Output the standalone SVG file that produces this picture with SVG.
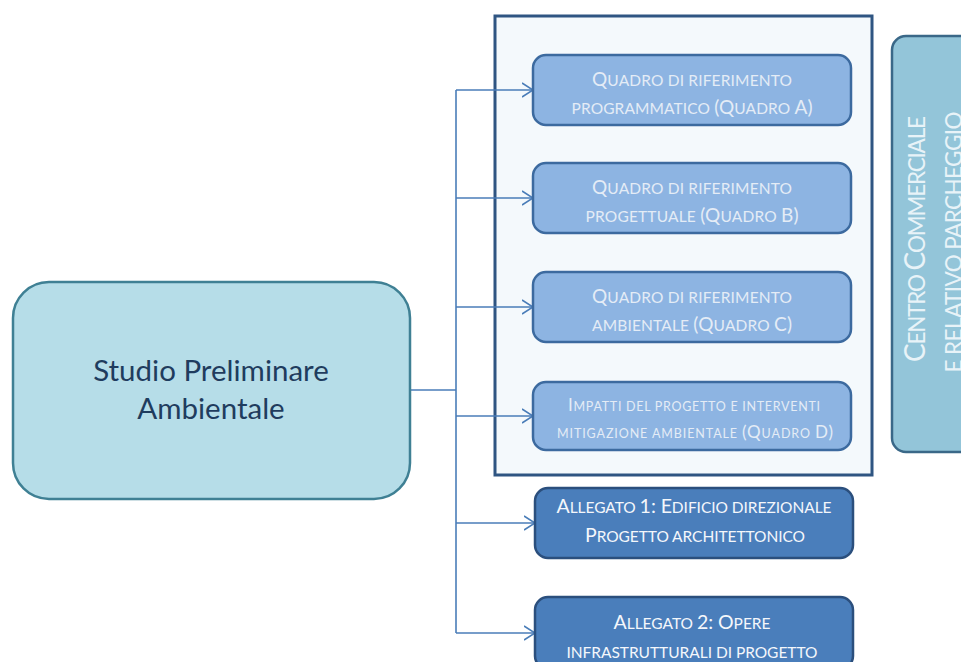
<svg xmlns="http://www.w3.org/2000/svg" width="961" height="662" viewBox="0 0 961 662">
<defs>
<style>
text{font-family:Lato,"Open Sans","Liberation Sans",sans-serif;text-anchor:middle}
.q rect{fill:#8db4e2;stroke:#3c6a9f;stroke-width:2.5}
.q text{fill:#e4ecf6}
.q .b{font-size:19px}.q .s{font-size:15.5px}
.qd .b{font-size:17px}.qd .s{font-size:12.5px}
.al rect{fill:#4a7ebb;stroke:#2b4f7d;stroke-width:2.5}
.al text{fill:#f4f7fb}
.al .b{font-size:19.5px}.al .s{font-size:15.5px}
.conn{fill:none;stroke:#4a7db8;stroke-width:1.6}
</style>
<marker id="arr" viewBox="0 0 12 16" refX="11" refY="8" markerWidth="12" markerHeight="16" markerUnits="userSpaceOnUse" orient="auto">
<path d="M0,1 L11,8 L0,15" fill="none" stroke="#4a7db8" stroke-width="1.6"/>
</marker>
</defs>
<rect width="961" height="662" fill="#ffffff"/>

<g id="container">
<rect x="495" y="16" width="377" height="459" fill="#f4f9fc" stroke="#2f5582" stroke-width="3"/>
</g>

<g id="connectors" class="conn">
<path d="M410,390 H456"/>
<path d="M456,90 V633"/>
<path d="M456,90 H533" marker-end="url(#arr)"/>
<path d="M456,198 H533" marker-end="url(#arr)"/>
<path d="M456,307 H533" marker-end="url(#arr)"/>
<path d="M456,416 H533" marker-end="url(#arr)"/>
<path d="M456,523 H535" marker-end="url(#arr)"/>
<path d="M456,633 H535" marker-end="url(#arr)"/>
</g>

<g id="studio">
<rect x="13" y="282" width="397" height="217" rx="36" fill="#b6dde8" stroke="#3f8094" stroke-width="2.5"/>
<text x="211" y="381" font-size="29.5" fill="#1f3c5e">Studio Preliminare</text>
<text x="211" y="419" font-size="29.5" fill="#1f3c5e">Ambientale</text>
</g>

<g id="quadroA" class="q">
<rect x="533" y="55" width="318" height="70" rx="13"/>
<text x="692" y="86" textLength="200"><tspan class="b">Q</tspan><tspan class="s">UADRO DI RIFERIMENTO</tspan></text>
<text x="692" y="114" textLength="241"><tspan class="s">PROGRAMMATICO </tspan><tspan class="b">(Q</tspan><tspan class="s">UADRO </tspan><tspan class="b">A)</tspan></text>
</g>

<g id="quadroB" class="q">
<rect x="533" y="163" width="318" height="70" rx="13"/>
<text x="692" y="194" textLength="200"><tspan class="b">Q</tspan><tspan class="s">UADRO DI RIFERIMENTO</tspan></text>
<text x="692" y="222" textLength="213"><tspan class="s">PROGETTUALE </tspan><tspan class="b">(Q</tspan><tspan class="s">UADRO </tspan><tspan class="b">B)</tspan></text>
</g>

<g id="quadroC" class="q">
<rect x="533" y="272" width="318" height="70" rx="13"/>
<text x="692" y="303" textLength="200"><tspan class="b">Q</tspan><tspan class="s">UADRO DI RIFERIMENTO</tspan></text>
<text x="692" y="331" textLength="200"><tspan class="s">AMBIENTALE </tspan><tspan class="b">(Q</tspan><tspan class="s">UADRO </tspan><tspan class="b">C)</tspan></text>
</g>

<g id="quadroD" class="q qd">
<rect x="533" y="382" width="318" height="68" rx="13"/>
<text x="694" y="411" textLength="252"><tspan class="b">I</tspan><tspan class="s">MPATTI DEL PROGETTO E INTERVENTI</tspan></text>
<text x="695" y="438" textLength="276"><tspan class="s">MITIGAZIONE AMBIENTALE </tspan><tspan class="b">(Q</tspan><tspan class="s">UADRO </tspan><tspan class="b">D)</tspan></text>
</g>

<g id="allegato1" class="al">
<rect x="535" y="488" width="318" height="70" rx="13"/>
<text x="694" y="513" textLength="275"><tspan class="b">A</tspan><tspan class="s">LLEGATO </tspan><tspan class="b">1: E</tspan><tspan class="s">DIFICIO DIREZIONALE</tspan></text>
<text x="695" y="542" textLength="220"><tspan class="b">P</tspan><tspan class="s">ROGETTO ARCHITETTONICO</tspan></text>
</g>

<g id="allegato2" class="al">
<rect x="535" y="597" width="318" height="72" rx="13"/>
<text x="692" y="629" textLength="157"><tspan class="b">A</tspan><tspan class="s">LLEGATO </tspan><tspan class="b">2: O</tspan><tspan class="s">PERE</tspan></text>
<text x="692" y="658" textLength="251"><tspan class="s">INFRASTRUTTURALI DI PROGETTO</tspan></text>
</g>

<g id="centro">
<rect x="892" y="36" width="100" height="416" rx="14" fill="#93c5d9" stroke="#3a6888" stroke-width="2.5"/>
<text transform="translate(925,239) rotate(-90)" x="0" y="0" fill="#e8f3f8" textLength="246"><tspan font-size="28">C</tspan><tspan font-size="22.5">ENTRO </tspan><tspan font-size="28">C</tspan><tspan font-size="22.5">OMMERCIALE</tspan></text>
<text transform="translate(962,242) rotate(-90)" x="0" y="0" fill="#e8f3f8" font-size="22.5" textLength="261">E RELATIVO PARCHEGGIO</text>
</g>
</svg>
